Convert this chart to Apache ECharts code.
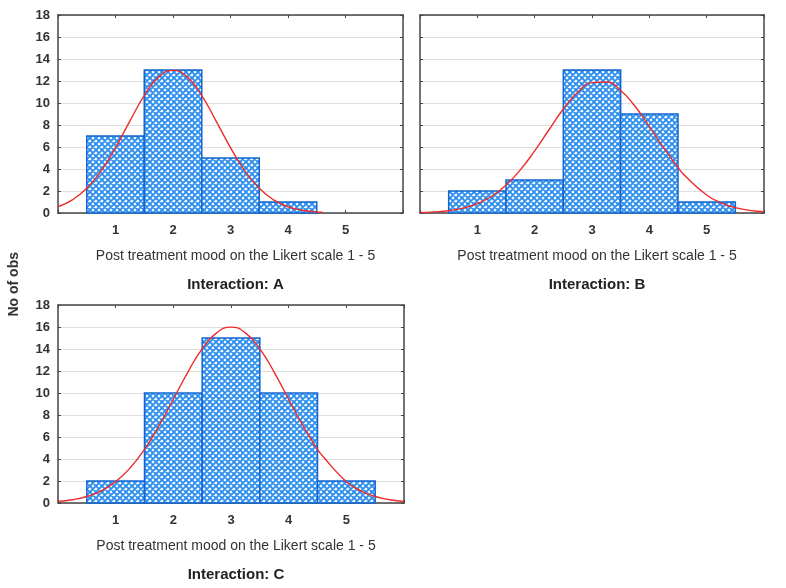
<!DOCTYPE html>
<html>
<head>
<meta charset="utf-8">
<script src="https://cdn.jsdelivr.net/npm/echarts@6/dist/echarts.min.js"></script>
<style>
html,body{margin:0;padding:0;background:#fff;}
#chart{width:786px;height:588px;}
</style>
</head>
<body>
<div id="chart"></div>
<script>
// ---- data ----
const likert = [1, 2, 3, 4, 5];
const obsA = [7, 13, 5, 1, 0];
const obsB = [2, 3, 13, 9, 1];
const obsC = [2, 10, 15, 10, 2];
const yTicks = [0, 2, 4, 6, 8, 10, 12, 14, 16, 18];
const curveX = [0, 0.25, 0.5, 0.75, 1, 1.25, 1.5, 1.75, 2, 2.25, 2.5, 2.75, 3, 3.25, 3.5, 3.75, 4, 4.25, 4.5, 4.6, 5, 5.25, 5.5, 5.75, 6];
const fitA = [0.57, 1.19, 2.24, 3.83, 5.94, 8.36, 10.67, 12.35, 12.97, 12.35, 10.67, 8.36, 5.94, 3.83, 2.24, 1.19, 0.57, 0.25, 0.10, 0.07, null, null, null, null, null];
const fitB = [0.04, 0.10, 0.21, 0.44, 0.85, 1.52, 2.53, 3.92, 5.65, 7.57, 9.45, 10.97, 11.85, 11.91, 11.14, 9.70, 7.85, 5.92, 4.15, 3.50, 1.64, 0.93, 0.49, 0.24, 0.11];
const fitC = [0.14, 0.30, 0.59, 1.11, 1.94, 3.18, 4.88, 7.01, 9.43, 11.88, 14.01, 15.47, 15.99, 15.47, 14.01, 11.88, 9.43, 7.01, 4.88, 4.20, 1.94, 1.11, 0.59, 0.30, 0.14];
const panelTitles = ['Interaction: A', 'Interaction: B', 'Interaction: C'];
const xAxisName = 'Post treatment mood on the Likert scale 1 - 5';
const yAxisName = 'No of obs';

// ---- hatch pattern ----
function makeHatch() {
  const s = 6;
  const c = document.createElement('canvas');
  c.width = s; c.height = s;
  const g = c.getContext('2d');
  g.fillStyle = '#f2faff';
  g.fillRect(0, 0, s, s);
  g.strokeStyle = '#2a8cec';
  g.lineWidth = 1.8;
  g.beginPath();
  g.moveTo(-1, -1); g.lineTo(s + 1, s + 1);
  g.moveTo(-1, s + 1); g.lineTo(s + 1, -1);
  g.moveTo(-1, s - 1); g.lineTo(1, s + 1);
  g.moveTo(s - 1, -1); g.lineTo(s + 1, 1);
  g.moveTo(-1, 1); g.lineTo(1, -1);
  g.moveTo(s - 1, s + 1); g.lineTo(s + 1, s - 1);
  g.stroke();
  return c;
}
const hatch = makeHatch();

const chart = echarts.init(document.getElementById('chart'), null, {renderer: 'canvas'});

const grids = [
  {left: 58, top: 15, width: 345, height: 198},
  {left: 420, top: 15, width: 344, height: 198},
  {left: 58, top: 305, width: 346, height: 198}
];
const obsList = [obsA, obsB, obsC];
const fitList = [fitA, fitB, fitC];

const axisColor = '#444';
const fam = 'Liberation Sans, Arial, sans-serif';
const labelStyle = {color: '#333', fontFamily: fam, fontSize: 13, fontWeight: 'bold'};

const xAxes = [], yAxes = [], series = [], titles = [];
grids.forEach((gr, i) => {
  xAxes.push({
    gridIndex: i, type: 'value', min: 0, max: 6, interval: 1, position: 'bottom',
    axisLine: {show: true, onZero: false, lineStyle: {color: axisColor, width: 1.5}},
    axisTick: {show: true, inside: true, length: 3, lineStyle: {color: axisColor}},
    axisLabel: Object.assign({margin: 11, formatter: v => (likert.indexOf(v) >= 0 ? String(v) : '')}, labelStyle),
    splitLine: {show: false}
  });
  xAxes.push({
    gridIndex: i, type: 'value', min: 0, max: 6, interval: 1, position: 'top',
    axisLine: {show: true, onZero: false, lineStyle: {color: axisColor, width: 1.5}},
    axisTick: {show: true, inside: true, length: 3, lineStyle: {color: axisColor}},
    axisLabel: {show: false}, splitLine: {show: false}
  });
  yAxes.push({
    gridIndex: i, type: 'value', min: 0, max: 18, interval: 2, position: 'left',
    axisLine: {show: true, onZero: false, lineStyle: {color: axisColor, width: 1.5}},
    axisTick: {show: true, inside: true, length: 3, lineStyle: {color: axisColor}},
    axisLabel: Object.assign({show: i !== 1, margin: 8, formatter: v => (yTicks.indexOf(v) >= 0 ? String(v) : '')}, labelStyle),
    splitLine: {show: true, lineStyle: {color: '#dedede', width: 1.2}}
  });
  yAxes.push({
    gridIndex: i, type: 'value', min: 0, max: 18, interval: 2, position: 'right',
    axisLine: {show: true, onZero: false, lineStyle: {color: axisColor, width: 1.5}},
    axisTick: {show: true, inside: true, length: 3, lineStyle: {color: axisColor}},
    axisLabel: {show: false}, splitLine: {show: false}
  });
  const xi = i * 2, yi = i * 2;
  series.push({
    type: 'custom', xAxisIndex: xi, yAxisIndex: yi, z: 2,
    data: likert.map((x, k) => [x, obsList[i][k]]).filter(d => d[1] > 0),
    renderItem: function (params, api) {
      const x = api.value(0), y = api.value(1);
      const p0 = api.coord([x - 0.5, y]);
      const p1 = api.coord([x + 0.5, 0]);
      return {
        type: 'rect',
        shape: {x: p0[0], y: p0[1], width: p1[0] - p0[0], height: p1[1] - p0[1]},
        style: {fill: {image: hatch, repeat: 'repeat'}, stroke: '#1565d0', lineWidth: 1.5}
      };
    }
  });
  series.push({
    type: 'line', xAxisIndex: xi, yAxisIndex: yi, z: 3,
    data: curveX.map((x, k) => [x, fitList[i][k]]).filter(d => d[1] !== null),
    smooth: true, showSymbol: false, symbol: 'none',
    lineStyle: {color: '#ee2b2b', width: 1.4}
  });
  const cx = gr.left + gr.width / 2;
  const bottom = gr.top + gr.height;
  titles.push({
    text: xAxisName, left: cx, top: bottom + 31, textAlign: 'center',
    textStyle: {fontFamily: fam, fontSize: 14, fontWeight: 'normal', color: '#333'}
  });
  titles.push({
    text: panelTitles[i], left: cx, top: bottom + 59, textAlign: 'center',
    textStyle: {fontFamily: fam, fontSize: 15, fontWeight: 'bold', color: '#222'}
  });
});

chart.setOption({
  animation: false,
  backgroundColor: '#fff',
  title: titles,
  grid: grids,
  xAxis: xAxes,
  yAxis: yAxes,
  series: series,
  graphic: [{
    type: 'text', left: 7, top: 252, rotation: Math.PI / 2,
    style: {text: yAxisName, fill: '#333', font: 'bold 14px "Liberation Sans", Arial, sans-serif'}
  }]
});
</script>
</body>
</html>
